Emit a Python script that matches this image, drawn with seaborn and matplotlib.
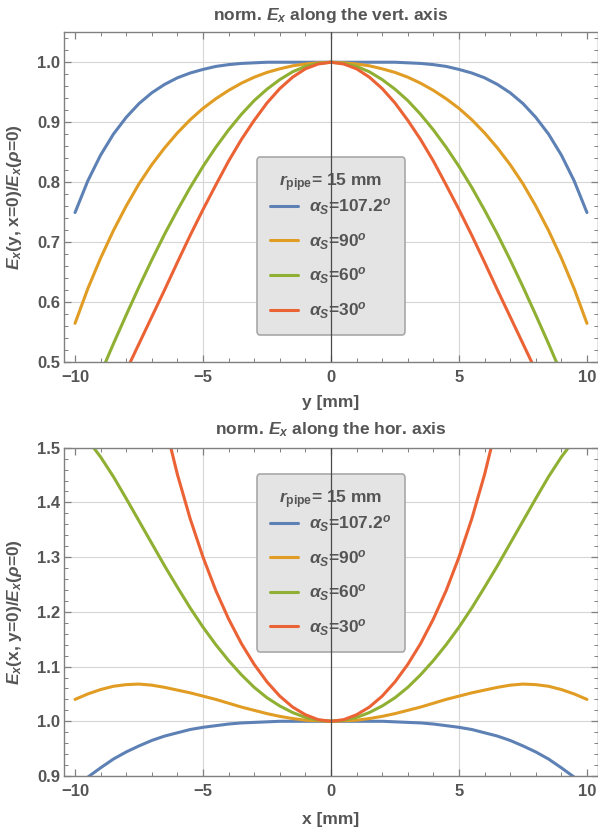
import numpy as np
import pandas as pd
import seaborn as sns
import matplotlib.pyplot as plt
import matplotlib.ticker as ticker
from matplotlib.lines import Line2D

# posicoes ao longo do eixo [mm]
pos_mm = [-10.0, -9.5, -9.0, -8.5, -8.0, -7.5, -7.0, -6.5, -6.0, -5.5,
          -5.0, -4.5, -4.0, -3.5, -3.0, -2.5, -2.0, -1.5, -1.0, -0.5,
          0.0, 0.5, 1.0, 1.5, 2.0, 2.5, 3.0, 3.5, 4.0, 4.5,
          5.0, 5.5, 6.0, 6.5, 7.0, 7.5, 8.0, 8.5, 9.0, 9.5, 10.0]

angulos = ["107.2", "90", "60", "30"]
cores = ["#5E81B5", "#E19C24", "#8FB032", "#EB6235"]

# E_x(y, x=0) / E_x(rho=0)  -- eixo vertical
vert_107 = [0.749, 0.802, 0.845, 0.880, 0.908, 0.931, 0.949, 0.963, 0.974, 0.982,
            0.988, 0.993, 0.996, 0.998, 0.999, 1.000, 1.000, 1.000, 1.000, 1.000,
            1.000, 1.000, 1.000, 1.000, 1.000, 1.000, 0.999, 0.998, 0.996, 0.993,
            0.988, 0.982, 0.974, 0.963, 0.949, 0.931, 0.908, 0.880, 0.845, 0.802, 0.749]
vert_90 = [0.564, 0.622, 0.673, 0.719, 0.760, 0.797, 0.829, 0.857, 0.882, 0.904,
           0.923, 0.939, 0.953, 0.965, 0.975, 0.983, 0.989, 0.994, 0.997, 0.999,
           1.000, 0.999, 0.997, 0.994, 0.989, 0.983, 0.975, 0.965, 0.953, 0.939,
           0.923, 0.904, 0.882, 0.857, 0.829, 0.797, 0.760, 0.719, 0.673, 0.622, 0.564]
vert_60 = [0.376, 0.428, 0.480, 0.530, 0.578, 0.625, 0.670, 0.713, 0.753, 0.791,
           0.826, 0.858, 0.887, 0.913, 0.936, 0.955, 0.971, 0.984, 0.993, 0.998,
           1.000, 0.998, 0.993, 0.984, 0.971, 0.955, 0.936, 0.913, 0.887, 0.858,
           0.826, 0.791, 0.753, 0.713, 0.670, 0.625, 0.578, 0.530, 0.480, 0.428, 0.376]
vert_30 = [0.323, 0.361, 0.400, 0.442, 0.485, 0.530, 0.575, 0.620, 0.666, 0.711,
           0.754, 0.795, 0.835, 0.871, 0.903, 0.932, 0.956, 0.975, 0.989, 0.997,
           1.000, 0.997, 0.989, 0.975, 0.956, 0.932, 0.903, 0.871, 0.835, 0.795,
           0.754, 0.711, 0.666, 0.620, 0.575, 0.530, 0.485, 0.442, 0.400, 0.361, 0.323]

# E_x(x, y=0) / E_x(rho=0)  -- eixo horizontal
hor_107 = [0.878, 0.898, 0.915, 0.931, 0.944, 0.955, 0.965, 0.973, 0.979, 0.985,
           0.989, 0.992, 0.995, 0.997, 0.998, 0.999, 1.000, 1.000, 1.000, 1.000,
           1.000, 1.000, 1.000, 1.000, 1.000, 0.999, 0.998, 0.997, 0.995, 0.992,
           0.989, 0.985, 0.979, 0.973, 0.965, 0.955, 0.944, 0.931, 0.915, 0.898, 0.878]
hor_90 = [1.040, 1.050, 1.058, 1.064, 1.067, 1.068, 1.066, 1.062, 1.057, 1.052,
          1.046, 1.040, 1.033, 1.026, 1.020, 1.014, 1.009, 1.005, 1.002, 1.001,
          1.000, 1.001, 1.002, 1.005, 1.009, 1.014, 1.020, 1.026, 1.033, 1.040,
          1.046, 1.052, 1.057, 1.062, 1.066, 1.068, 1.067, 1.064, 1.058, 1.050, 1.040]
hor_60 = [1.539, 1.514, 1.483, 1.447, 1.407, 1.366, 1.325, 1.284, 1.245, 1.207,
          1.172, 1.140, 1.111, 1.085, 1.062, 1.043, 1.028, 1.016, 1.007, 1.002,
          1.000, 1.002, 1.007, 1.016, 1.028, 1.043, 1.062, 1.085, 1.111, 1.140,
          1.172, 1.207, 1.245, 1.284, 1.325, 1.366, 1.407, 1.447, 1.483, 1.514, 1.539]
hor_30 = [2.950, 2.626, 2.357, 2.133, 1.946, 1.789, 1.658, 1.546, 1.451, 1.370,
          1.300, 1.239, 1.187, 1.142, 1.104, 1.072, 1.046, 1.026, 1.012, 1.003,
          1.000, 1.003, 1.012, 1.026, 1.046, 1.072, 1.104, 1.142, 1.187, 1.239,
          1.300, 1.370, 1.451, 1.546, 1.658, 1.789, 1.946, 2.133, 2.357, 2.626, 2.950]

COR_TEXTO = "#555555"


def montar_df(series):
    partes = []
    for ang, vals in zip(angulos, series):
        partes.append(pd.DataFrame({"pos": pos_mm, "val": vals, "ang": ang}))
    return pd.concat(partes, ignore_index=True)


def painel(ax, df, ylim, titulo, xlabel, ylabel, leg_y, pad_titulo, xlab_y):
    sns.lineplot(data=df, x="pos", y="val", hue="ang", palette=cores,
                 estimator=None, sort=False, lw=2.2, legend=False, ax=ax, zorder=2)
    ax.set_xlim(-10.42, 10.42)
    ax.set_ylim(*ylim)

    ax.xaxis.set_major_locator(ticker.MultipleLocator(5))
    ax.xaxis.set_minor_locator(ticker.MultipleLocator(1))
    ax.yaxis.set_major_locator(ticker.MultipleLocator(0.1))
    ax.yaxis.set_minor_locator(ticker.MultipleLocator(0.02))
    ax.yaxis.set_major_formatter(ticker.FormatStrFormatter("%.1f"))
    ax.tick_params(which="both", direction="in", top=True, right=True,
                   color="#808080", labelcolor=COR_TEXTO, labelsize=12)
    ax.tick_params(which="major", length=5, width=0.9)
    ax.tick_params(which="minor", length=3, width=0.7)
    ax.tick_params(axis="x", pad=6)
    ax.tick_params(axis="y", pad=3)
    for s in ax.spines.values():
        s.set_color("#808080")
        s.set_linewidth(1.0)

    ax.yaxis.grid(True, color="#d6d6d6", lw=0.8, zorder=0.5)
    for xv in (-5, 5):
        ax.axvline(xv, color="#d6d6d6", lw=0.8, zorder=0.5)
    ax.axvline(0, color="#4a4a4a", lw=0.9, zorder=4)

    ax.set_title(titulo, color=COR_TEXTO, fontsize=12.5, fontweight="bold", pad=pad_titulo)
    ax.set_xlabel(xlabel, color=COR_TEXTO, fontsize=12.5, fontweight="bold")
    ax.set_ylabel(ylabel, color=COR_TEXTO, fontsize=12.5, fontweight="bold")
    ax.yaxis.set_label_coords(-0.075, 0.5)
    ax.xaxis.set_label_coords(0.5, xlab_y)

    handles = [Line2D([], [], color=c, lw=2.2) for c in cores]
    labels = [r"$\alpha_S$=" + a + r"$^o$" for a in angulos]
    leg = ax.legend(handles, labels, title=r"$r_{\rm pipe}$= 15 mm",
                    loc="center", bbox_to_anchor=(0.5, leg_y),
                    fontsize=12.5, title_fontsize=12.5, labelcolor=COR_TEXTO,
                    frameon=True, fancybox=True, facecolor="#e4e4e4",
                    edgecolor="#a8a8a8", framealpha=1.0,
                    handlelength=1.6, handletextpad=0.65, labelspacing=0.8,
                    borderpad=0.8)
    leg.get_title().set_color(COR_TEXTO)
    leg.get_title().set_fontweight("bold")
    leg.get_frame().set_linewidth(1.2)
    # espaco menor entre o titulo e as entradas
    leg._legend_box.sep = 2
    leg.set_zorder(3)


def main():
    sns.set_style("ticks")
    plt.rcParams["font.family"] = ["Liberation Sans", "DejaVu Sans"]
    plt.rcParams["font.weight"] = "bold"
    plt.rcParams["mathtext.fontset"] = "custom"
    plt.rcParams["mathtext.rm"] = "Liberation Sans:bold"
    plt.rcParams["mathtext.it"] = "Liberation Sans:italic:bold"
    plt.rcParams["mathtext.bf"] = "Liberation Sans:bold"
    plt.rcParams["axes.unicode_minus"] = True

    fig = plt.figure(figsize=(5.98, 8.32), dpi=100)
    ax1 = fig.add_axes([0.1075, 0.5653, 0.892, 0.3959])
    ax2 = fig.add_axes([0.1075, 0.0673, 0.892, 0.3946])

    df_vert = montar_df([vert_107, vert_90, vert_60, vert_30])
    df_hor = montar_df([hor_107, hor_90, hor_60, hor_30])

    painel(ax1, df_vert, (0.5, 1.05), r"norm. $E_x$ along the vert. axis", "y [mm]",
           r"$E_x$(y, x=0)/$E_x$($\rho$=0)", 0.351, 9, -0.10)
    painel(ax2, df_hor, (0.9, 1.5), r"norm. $E_x$ along the hor. axis", "x [mm]",
           r"$E_x$(x, y=0)/$E_x$($\rho$=0)", 0.649, 10, -0.11)

    fig.savefig("out.png", dpi=100)
    plt.close(fig)


if __name__ == "__main__":
    main()
